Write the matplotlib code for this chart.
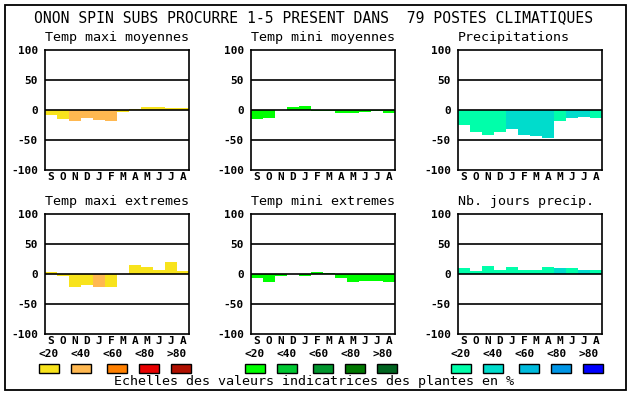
import matplotlib
matplotlib.use("Agg")
import matplotlib.pyplot as plt
from matplotlib.patches import Rectangle

W, H = 630, 394

months = ["S", "O", "N", "D", "J", "F", "M", "A", "M", "J", "J", "A"]

tmax_moy = [-8, -15, -18, -13, -16, -18, -4, 2, 5, 5, 3, 3]
tmax_moy_cls = [0, 0, 1, 1, 1, 1, 0, 0, 0, 0, 0, 0]

tmin_moy = [-15, -13, 0, 5, 7, -2, -2, -5, -5, -4, -2, -5]
tmin_moy_cls = [0] * 12

precip = [-25, -36, -42, -36, -32, -42, -43, -46, -18, -13, -11, -13]
precip_cls = [0, 0, 0, 0, 1, 1, 1, 1, 0, 1, 1, 0]

tmax_ext = [3, -3, -22, -18, -22, -22, 0, 15, 12, 7, 20, 5]
tmax_ext_cls = [0, 0, 0, 0, 1, 0, 0, 0, 0, 0, 0, 0]

tmin_ext = [-6, -13, -3, 0, -3, 3, 2, -7, -13, -12, -12, -13]
tmin_ext_cls = [0] * 12

njours = [10, 5, 13, 7, 12, 7, 7, 12, 10, 10, 7, 7]
njours_cls = [0, 0, 0, 0, 0, 0, 0, 0, 1, 0, 1, 0]

class_labels = ["<20", "<40", "<60", "<80", ">80"]

warm = ["#f8e31c", "#ffb850", "#ff8000", "#e80000", "#b01000"]
green = ["#00ff00", "#00c832", "#00962d", "#007800", "#006420"]
blue = ["#00ffaa", "#00dccc", "#00bbdd", "#0096e6", "#0000ff"]

panels = [
    ("Temp maxi moyennes", tmax_moy, tmax_moy_cls, warm, 45, 50),
    ("Temp mini moyennes", tmin_moy, tmin_moy_cls, green, 251, 50),
    ("Precipitations", precip, precip_cls, blue, 458, 50),
    ("Temp maxi extremes", tmax_ext, tmax_ext_cls, warm, 45, 214),
    ("Temp mini extremes", tmin_ext, tmin_ext_cls, green, 251, 214),
    ("Nb. jours precip.", njours, njours_cls, blue, 458, 214),
]

mono = "DejaVu Sans Mono"
plt.rcParams["font.family"] = mono

fig = plt.figure(figsize=(W / 100, H / 100), dpi=100)


def fx(x):
    return x / W


def fy(y):
    return 1 - y / H


# outer frame
fig.patches.append(Rectangle((fx(5), fy(390)), fx(621), 385 / H,
                             transform=fig.transFigure, fill=False,
                             edgecolor="black", lw=1.3))

fig.text(fx(314), fy(18), "ONON SPIN SUBS PROCURRE 1-5 PRESENT DANS  79 POSTES CLIMATIQUES",
         ha="center", va="center", fontsize=10.6)

for title, vals, cls, pal, x0, y0 in panels:
    ax = fig.add_axes([fx(x0), fy(y0 + 120), 144 / W, 120 / H])
    colors = [pal[c] for c in cls]
    ax.bar(range(12), vals, width=1.0, color=colors, zorder=1)
    for v in (50, 0, -50):
        ax.axhline(v, color="black", lw=1.2, zorder=3)
    ax.set_xlim(-0.5, 11.5)
    ax.set_ylim(-100, 100)
    ax.set_yticks([100, 50, 0, -50, -100])
    ax.set_yticklabels(["100", "50", "0", "-50", "-100"], fontweight="bold", fontsize=8)
    ax.set_xticks(range(12))
    ax.set_xticklabels(months, fontweight="bold", fontsize=8)
    ax.tick_params(length=0, pad=5)
    ax.tick_params(axis="x", pad=1.5)
    for s in ax.spines.values():
        s.set_linewidth(1.2)
    fig.text(fx(x0), fy(y0 - 12), title, ha="left", va="center", fontsize=9.6)

# legend rows
legend_sets = [(warm, 39), (green, 245), (blue, 451)]
box_offsets = [0, 32, 68, 100, 132]
label_offsets = [10, 42, 74, 106, 138]
for pal, bx in legend_sets:
    for i in range(5):
        fig.patches.append(Rectangle((fx(bx + box_offsets[i]), fy(373)), 20 / W, 9 / H,
                                     transform=fig.transFigure, facecolor=pal[i],
                                     edgecolor="black", lw=1.0))
        fig.text(fx(bx + label_offsets[i]), fy(354), class_labels[i],
                 ha="center", va="center", fontsize=8, fontweight="bold")

fig.text(fx(314), fy(382), "Echelles des valeurs indicatrices des plantes en %",
         ha="center", va="center", fontsize=9.6)

fig.savefig("out.png", dpi=100)
